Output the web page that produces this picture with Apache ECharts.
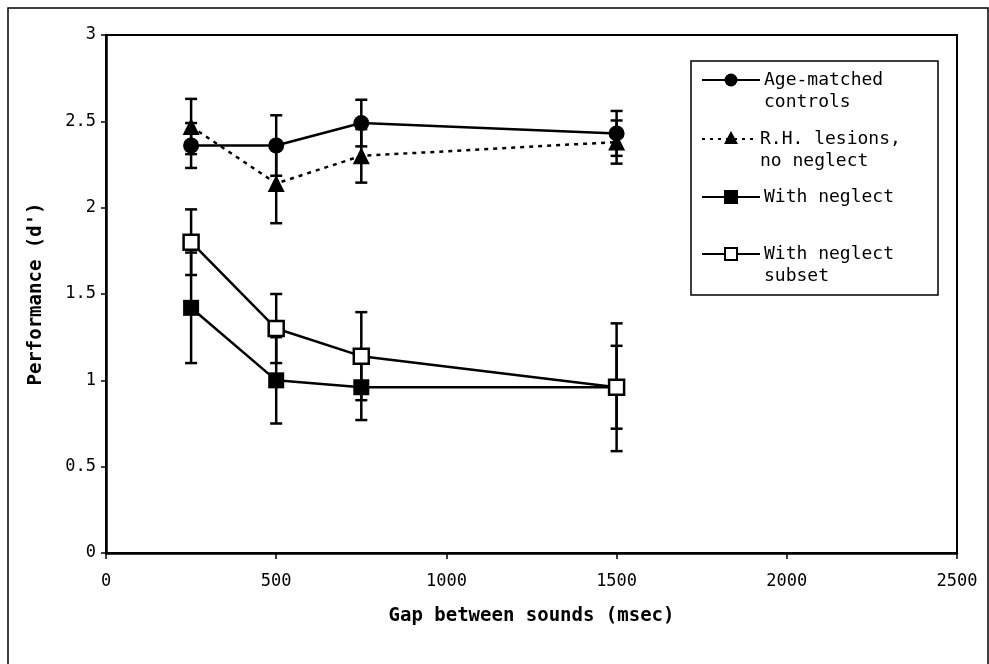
<!DOCTYPE html>
<html>
<head>
<meta charset="UTF-8">
<title>Performance (d') by gap</title>
<style>
body{margin:0;background:#fff;}
#main{width:989px;height:664px;}
</style>
</head>
<body>
<div id="main"></div>
<script src="https://cdn.jsdelivr.net/npm/echarts@6.0.0/dist/echarts.min.js"></script>
<script>
// gap between sounds (msec)
var gaps = [250, 500, 750, 1500];
// performance d' and error bar half-widths
var controls = [2.36, 2.36, 2.49, 2.43];
var controlsErr = [0.13, 0.175, 0.135, 0.13];
var rhLesions = [2.47, 2.14, 2.30, 2.38];
var rhLesionsErr = [0.16, 0.23, 0.155, 0.125];
var neglect = [1.42, 1.00, 0.96, 0.96];
var neglectErr = [0.32, 0.25, 0.19, 0.24];
var subset = [1.80, 1.30, 1.14, 0.96];
var subsetErr = [0.19, 0.20, 0.255, 0.37];
var seriesNames = ['Age-matched\ncontrols', 'R.H. lesions,\nno neglect', 'With neglect', 'With neglect\nsubset'];

var MONO = '"DejaVu Sans Mono", "Liberation Mono", monospace';

var myChart = echarts.init(document.getElementById('main'));

function pairs(vals){
	return gaps.map(function(g, i){ return [g, vals[i]]; });
}

//误差棒
function errorBars(vals, errs){
	return {
		type: 'custom',
		silent: true,
		z: 1,
		data: gaps.map(function(g, i){ return [g, vals[i] - errs[i], vals[i] + errs[i]]; }),
		encode: {x: 0, y: [1, 2]},
		renderItem: function(params, api){
			var lo = api.coord([api.value(0), api.value(1)]);
			var hi = api.coord([api.value(0), api.value(2)]);
			var w = 6;
			var st = {stroke: '#000', lineWidth: 2.5};
			return {type: 'group', children: [
				{type: 'line', shape: {x1: lo[0], y1: lo[1], x2: hi[0], y2: hi[1]}, style: st},
				{type: 'line', shape: {x1: lo[0] - w, y1: lo[1], x2: lo[0] + w, y2: lo[1]}, style: st},
				{type: 'line', shape: {x1: hi[0] - w, y1: hi[1], x2: hi[0] + w, y2: hi[1]}, style: st}
			]};
		}
	};
}

function lineSeries(name, vals, symbol, size, fill, dotted){
	return {
		name: name,
		type: 'line',
		z: 3,
		data: pairs(vals),
		symbol: symbol,
		symbolSize: size,
		showAllSymbol: true,
		lineStyle: {color: '#000', width: 2.5, type: dotted ? [4, 5] : 'solid'},
		itemStyle: {color: fill, borderColor: '#000', borderWidth: fill == '#fff' ? 2.5 : 0},
		emphasis: {disabled: true}
	};
}

// legend drawn as graphics (icon lined up with first text line)
var lg = {x: 691, y: 61, w: 247, h: 234};
var rows = [80, 139, 197, 254];
var textX = [764, 760, 764, 764];
var legendItems = [
	{type: 'rect', shape: {x: lg.x, y: lg.y, width: lg.w, height: lg.h}, style: {fill: '#fff', stroke: '#000', lineWidth: 1.5}}
];
rows.forEach(function(ry, i){
	if(i == 1){
		legendItems.push({type: 'line', shape: {x1: 702, y1: ry, x2: 756, y2: ry}, style: {stroke: '#000', lineWidth: 2, lineDash: [3, 5]}});
		legendItems.push({type: 'polygon', shape: {points: [[731, ry - 8], [738, ry + 5], [724, ry + 5]]}, style: {fill: '#000'}});
	}else{
		legendItems.push({type: 'line', shape: {x1: 702, y1: ry, x2: 760, y2: ry}, style: {stroke: '#000', lineWidth: 2}});
		if(i == 0){
			legendItems.push({type: 'circle', shape: {cx: 731, cy: ry, r: 6.5}, style: {fill: '#000'}});
		}else if(i == 2){
			legendItems.push({type: 'rect', shape: {x: 724, y: ry - 7, width: 14, height: 14}, style: {fill: '#000'}});
		}else{
			legendItems.push({type: 'rect', shape: {x: 725, y: ry - 6, width: 12, height: 12}, style: {fill: '#fff', stroke: '#000', lineWidth: 2}});
		}
	}
	legendItems.push({type: 'text', style: {text: seriesNames[i], x: textX[i], y: ry - 11, font: '18px ' + MONO, lineHeight: 22, fill: '#000', verticalAlign: 'top'}});
});

myChart.setOption({
	animation: false,
	backgroundColor: '#fff',
	grid: {left: 106, top: 35, right: 32, bottom: 111, show: true, borderColor: '#000', borderWidth: 2},
	xAxis: {
		type: 'value',
		min: 0, max: 2500, interval: 500,
		name: 'Gap between sounds (msec)',
		nameLocation: 'middle',
		nameGap: 54,
		nameTextStyle: {fontFamily: MONO, fontWeight: 'bold', fontSize: 19, color: '#000'},
		axisLine: {lineStyle: {color: '#000', width: 2.5}},
		axisTick: {show: true, length: 6, lineStyle: {color: '#000', width: 1.5}},
		axisLabel: {margin: 20, fontFamily: MONO, fontSize: 17, color: '#000', formatter: function(v){ return String(v); }},
		splitLine: {show: false}
	},
	yAxis: {
		type: 'value',
		min: 0, max: 3, interval: 0.5,
		name: "Performance (d')",
		nameLocation: 'middle',
		nameGap: 60,
		nameRotate: 90,
		nameTextStyle: {fontFamily: MONO, fontWeight: 'bold', fontSize: 19, color: '#000'},
		axisLine: {show: true, lineStyle: {color: '#000', width: 2.5}},
		axisTick: {show: true, length: 5, lineStyle: {color: '#000', width: 1.5}},
		axisLabel: {margin: 10, fontFamily: MONO, fontSize: 17, color: '#000'},
		splitLine: {show: false}
	},
	graphic: [
		{type: 'rect', silent: true, z: -10, shape: {x: 8, y: 8, width: 980, height: 670}, style: {fill: 'none', stroke: '#000', lineWidth: 1.5}},
		{type: 'group', z: 100, children: legendItems}
	],
	series: [
		errorBars(controls, controlsErr),
		errorBars(rhLesions, rhLesionsErr),
		errorBars(neglect, neglectErr),
		errorBars(subset, subsetErr),
		lineSeries(seriesNames[0], controls, 'circle', 16, '#000', false),
		lineSeries(seriesNames[1], rhLesions, 'triangle', 17, '#000', true),
		lineSeries(seriesNames[2], neglect, 'rect', 16, '#000', false),
		lineSeries(seriesNames[3], subset, 'rect', 15, '#fff', false)
	]
});
</script>
</body>
</html>
